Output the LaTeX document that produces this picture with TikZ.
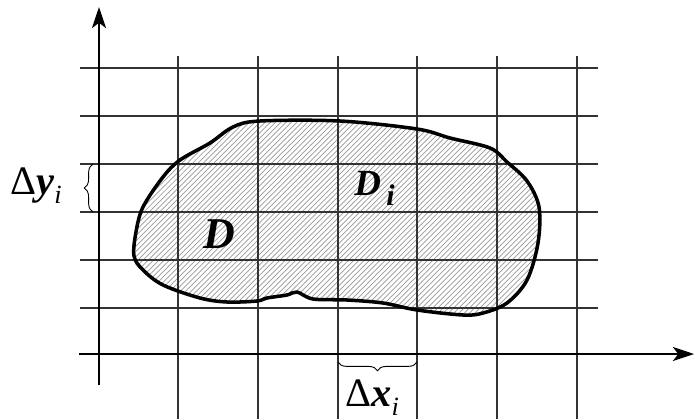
\documentclass[tikz,border=0pt]{standalone}
\usepackage{fontspec}
\setmainfont{Liberation Serif}
\usetikzlibrary{patterns,decorations.pathreplacing,arrows.meta}

\begin{document}
\begin{tikzpicture}[x=0.02cm,y=-0.02cm,
    griglia/.style={line width=0.7pt,black!80},
    asse/.style={line width=1.4pt,-{Stealth[length=12pt,width=8pt,inset=3pt]}},
    bordo/.style={line width=2pt,line join=round},
    tratteggio/.style={pattern=north east lines,pattern color=black!40},
    graffa/.style={decorate,decoration={brace,amplitude=5pt},line width=0.5pt},
    etichetta/.style={inner sep=0pt,font=\fontsize{23}{23}\selectfont}]
    \useasboundingbox (0,0) rectangle (695,419);

    % Regione D
    \def\contorno{plot[smooth cycle,tension=0.55] coordinates {
        (260,121) (340,121) (417,129) (450,138) (490,148) (507,162)
        (527,181) (539,207) (538,243) (527,280) (507,303) (483,313)
        (463,315) (417,310) (383,303) (347,300) (313,299) (297,292)
        (287,295) (267,298) (257,301) (227,302) (200,298) (163,285)
        (143,270) (134,256) (136,232) (143,207) (163,177) (180,160)
        (210,143) (233,127)}}
    \fill[tratteggio] \contorno;

    % Griglia
    \foreach \y in {68,116,164,212,260,308}
        \draw[griglia] (80,\y) -- (598,\y);
    \foreach \x in {178,258,338,417,497,577}
        \draw[griglia] (\x,56) -- (\x,419);

    \draw[bordo] \contorno;

    % Assi
    \coordinate (x0) at (79,354);
    \coordinate (x1) at (694,354);
    \coordinate (y0) at (99,385);
    \coordinate (y1) at (99,7);
    \draw[asse] (x0) -- (x1);
    \draw[asse] (y0) -- (y1);

    % Graffe
    \coordinate (gy0) at (93,212);
    \coordinate (gy1) at (93,164);
    \coordinate (gx0) at (417,362);
    \coordinate (gx1) at (338,362);
    \draw[graffa] (gy0) -- (gy1);
    \draw[graffa] (gx0) -- (gx1);

    % Etichette
    \node[etichetta,anchor=base west] (dy) at (10,194)
        {Δ\textbf{\textit{y}}\raisebox{-0.5ex}{\fontsize{15}{15}\selectfont\textit{i}}};
    \node[etichetta,anchor=base west] (dx) at (345,406)
        {Δ\textbf{\textit{x}}\raisebox{-0.5ex}{\fontsize{15}{15}\selectfont\textit{i}}};
    \node[etichetta,anchor=base,font=\fontsize{25}{25}\selectfont] (D) at (219,248)
        {\textbf{\textit{D}}};
    \node[etichetta,anchor=base west,font=\fontsize{21}{21}\selectfont] (Di) at (354,195)
        {\textbf{\textit{D}}\kern3pt\raisebox{-0.6ex}{\fontsize{17}{17}\selectfont\textbf{\textit{i}}}};
\end{tikzpicture}
\end{document}
